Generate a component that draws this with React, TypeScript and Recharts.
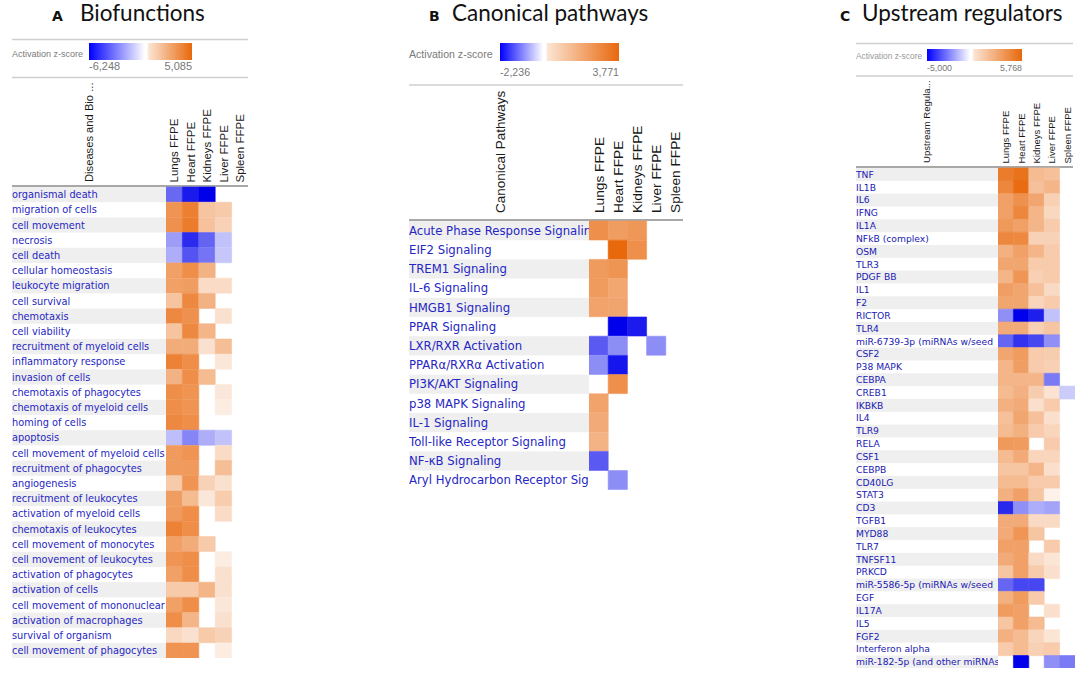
import React from 'react';
import { BarChart, Bar, XAxis, YAxis, Cell } from 'recharts';

// ---------- data ----------
const SAMPLES = ['Lungs FFPE', 'Heart FFPE', 'Kidneys FFPE', 'Liver FFPE', 'Spleen FFPE'];

const bioLabels = [
  'organismal death', 'migration of cells', 'cell movement', 'necrosis', 'cell death',
  'cellular homeostasis', 'leukocyte migration', 'cell survival', 'chemotaxis', 'cell viability',
  'recruitment of myeloid cells', 'inflammatory response', 'invasion of cells', 'chemotaxis of phagocytes',
  'chemotaxis of myeloid cells', 'homing of cells', 'apoptosis', 'cell movement of myeloid cells',
  'recruitment of phagocytes', 'angiogenesis', 'recruitment of leukocytes', 'activation of myeloid cells',
  'chemotaxis of leukocytes', 'cell movement of monocytes', 'cell movement of leukocytes',
  'activation of phagocytes', 'activation of cells', 'cell movement of mononuclear',
  'activation of macrophages', 'survival of organism', 'cell movement of phagocytes',
];
const bioLungs = [-3.7, 3.6, 3.7, -2.4, -2.0, 3.2, 3.2, 2.0, 4.0, 2.0, 2.8, 4.2, 2.6, 3.8, 3.8, 4.0, -1.6, 3.4, 3.4, 1.8, 3.3, 3.4, 4.2, 3.2, 3.6, 3.2, 1.8, 3.2, 3.8, 1.3, 3.6];
const bioHeart = [-5.6, 4.3, 4.4, -5.2, -4.2, 3.8, 3.3, 4.0, 3.7, 4.0, 2.8, 3.8, 3.8, 3.6, 3.6, 3.8, -3.0, 3.6, 3.4, 3.6, 2.3, 3.8, 3.8, 2.8, 3.8, 3.8, 1.8, 3.8, 2.5, 1.0, 3.6];
const bioKidneys = [-6.248, 2.0, 2.1, -3.8, -3.4, 2.6, 1.2, 2.6, null, 2.5, 1.0, null, 2.3, null, null, null, -2.0, null, null, 1.5, 0.8, null, null, 1.8, null, null, 2.5, null, null, 1.8, null];
const bioLiver = [null, 1.8, 1.5, -1.5, -1.4, null, 1.2, null, 1.0, null, 2.2, 0.8, null, 0.8, 0.6, null, -1.5, 1.2, 2.2, 1.0, 1.7, 1.2, null, null, 0.6, 1.0, 1.0, 0.8, 1.0, 1.5, 0.6];
const bioSpleen = bioLabels.map(() => null);
const bioRange = [-6.248, 5.085];
const bioRangeText = ['-6,248', '5,085'];

const canLabels = [
  'Acute Phase Response Signalin', 'EIF2 Signaling', 'TREM1 Signaling', 'IL-6 Signaling', 'HMGB1 Signaling',
  'PPAR Signaling', 'LXR/RXR Activation', 'PPARα/RXRα Activation', 'PI3K/AKT Signaling', 'p38 MAPK Signaling',
  'IL-1 Signaling', 'Toll-like Receptor Signaling', 'NF-κB Signaling', 'Aryl Hydrocarbon Receptor Sig',
];
const canLungs = [2.8, null, 2.5, 2.5, 2.3, null, -1.45, -1.0, null, 2.3, 2.1, 1.9, -1.45, null];
const canHeart = [2.45, 3.771, 2.65, 2.2, 2.25, -2.236, -1.0, -2.05, 2.8, null, null, null, null, -1.0];
const canKidneys = [2.6, 2.8, null, null, null, -2.0, null, null, null, null, null, null, null, null];
const canLiver = [null, null, null, null, null, null, -1.0, null, null, null, null, null, null, null];
const canSpleen = canLabels.map(() => null);
const canRange = [-2.236, 3.771];
const canRangeText = ['-2,236', '3,771'];

const upLabels = [
  'TNF', 'IL1B', 'IL6', 'IFNG', 'IL1A', 'NFkB (complex)', 'OSM', 'TLR3', 'PDGF BB', 'IL1', 'F2', 'RICTOR',
  'TLR4', 'miR-6739-3p (miRNAs w/seed', 'CSF2', 'P38 MAPK', 'CEBPA', 'CREB1', 'IKBKB', 'IL4', 'TLR9', 'RELA',
  'CSF1', 'CEBPB', 'CD40LG', 'STAT3', 'CD3', 'TGFB1', 'MYD88', 'TLR7', 'TNFSF11', 'PRKCD',
  'miR-5586-5p (miRNAs w/seed', 'EGF', 'IL17A', 'IL5', 'FGF2', 'Interferon alpha', 'miR-182-5p (and other miRNAs',
];
const upLungs = [5.0, 4.6, 3.6, 3.6, 3.9, 4.6, 3.0, 3.4, 2.8, 3.7, 3.4, -2.2, 3.2, -3.0, 3.4, 2.8, 2.8, 2.6, 3.0, 2.4, 2.6, 3.9, 2.6, 2.2, 2.6, 3.0, -4.2, 3.2, 3.2, 3.6, 3.2, 2.2, -3.0, 3.0, 3.8, 2.2, 3.0, 2.0, null];
const upHeart = [5.4, 5.6, 4.2, 4.6, 3.6, 4.5, 3.6, 3.4, 4.0, 3.4, 3.4, -5.0, 3.2, -4.0, 3.8, 3.7, 2.8, 3.0, 3.2, 3.4, 3.0, 3.8, 3.2, 2.2, 2.6, 3.6, -2.2, 3.2, 4.0, 3.6, 3.6, 3.6, -3.6, 3.8, 3.6, 3.6, 2.6, 2.6, -5.0];
const upKidneys = [2.6, 2.4, 3.4, 2.8, 2.8, 1.7, 2.8, 2.0, 1.8, 2.4, 1.6, -4.4, 1.8, -3.6, 2.0, 2.0, 2.8, 1.9, 1.2, 2.4, 2.0, null, 1.6, 2.8, 2.0, 2.2, -1.6, 1.4, 2.2, null, 1.4, 2.0, -3.6, 2.0, null, 2.6, 1.6, 1.8, null];
const upLiver = [2.4, 2.8, 1.8, 1.5, 2.0, 1.7, 2.0, 2.0, 2.0, 1.4, 2.0, -1.2, 2.2, -2.2, 1.9, 1.8, -2.6, 1.1, 2.0, 1.2, 1.6, 2.0, 1.6, 1.2, 2.0, 0.5, -1.8, 1.4, null, 2.0, 1.0, 1.2, null, null, 1.2, null, 1.0, 2.0, -2.2];
const upSpleen = [null, null, null, null, null, null, null, null, null, null, null, null, null, null, null, null, null, -1.0, null, null, null, null, null, null, null, null, null, null, null, null, null, null, null, null, null, null, null, null, -2.6];
const upRange = [-5.0, 5.768];
const upRangeText = ['-5,000', '5,768'];

// ---------- helpers ----------
const ORANGE = [232, 104, 12];
function zColor(z: number | null, min: number, max: number): string {
  if (z === null || z === undefined) return 'none';
  let r: number, g: number, b: number;
  if (z >= 0) {
    const t = Math.min(1, z / max);
    r = 255 - (255 - ORANGE[0]) * t;
    g = 255 - (255 - ORANGE[1]) * t;
    b = 255 - (255 - ORANGE[2]) * t;
  } else {
    const t = Math.min(1, z / min);
    r = 255 * (1 - t);
    g = 255 * (1 - t);
    b = 255 - 20 * t;
  }
  return `rgb(${Math.round(r)},${Math.round(g)},${Math.round(b)})`;
}

type Cfg = {
  id: string; left: number; labelW: number; plotW: number; headerH: number; plotTop: number;
  rowH: number; headFs: number; headMargin: number; labelFs: number; labelFill: string;
};

const cfgA: Cfg = { id: 'a', left: 12, labelW: 154, plotW: 82, headerH: 100, plotTop: 186.5, rowH: 15.2, headFs: 11.5, headMargin: 4.5, labelFs: 9.8, labelFill: '#2626c4' };
const cfgB: Cfg = { id: 'b', left: 409, labelW: 180, plotW: 96, headerH: 135, plotTop: 221, rowH: 19.2, headFs: 13.7, headMargin: 8, labelFs: 11.7, labelFill: '#2626c4' };
const cfgC: Cfg = { id: 'c', left: 856, labelW: 142, plotW: 77, headerH: 90, plotTop: 167.5, rowH: 12.83, headFs: 9.5, headMargin: 4.5, labelFs: 9.2, labelFill: '#2020b4' };

function Heatmap({ cfg, labels, cols, range }: { cfg: Cfg; labels: string[]; cols: (number | null)[][]; range: number[] }) {
  const data = labels.map((name, i) => ({ name, s0: 1, s1: 1, s2: 1, s3: 1, s4: 1, z: cols.map((c) => c[i]) }));
  const plotH = cfg.rowH * labels.length;
  const width = cfg.labelW + cfg.plotW;
  const height = cfg.headerH + plotH;
  const colTick = (p: any) => {
    const idx = Math.floor(p.payload.value);
    return (
      <text
        transform={`translate(${p.x + cfg.headFs * 0.36},${p.y}) rotate(-90)`}
        fontSize={cfg.headFs}
        fontFamily="Liberation Sans, Arial, sans-serif"
        fill="#1a1a1a"
        textAnchor="start"
      >
        {SAMPLES[idx]}
      </text>
    );
  };
  const rowTick = (p: any) => {
    const i = p.index ?? p.payload.index;
    const x0 = p.x - cfg.labelW;
    const clipId = `clip-${cfg.id}-${i}`;
    return (
      <g>
        <defs>
          <clipPath id={clipId}>
            <rect x={x0} y={p.y - cfg.rowH / 2} width={cfg.labelW} height={cfg.rowH} />
          </clipPath>
        </defs>
        {i % 2 === 0 && (
          <rect x={x0} y={p.y - cfg.rowH / 2} width={cfg.labelW} height={cfg.rowH} fill="#efefef" />
        )}
        <text
          x={x0}
          y={p.y}
          dy="0.36em"
          fontSize={cfg.labelFs}
          fontFamily="DejaVu Sans, Verdana, sans-serif"
          fill={cfg.labelFill}
          textAnchor="start"
          clipPath={`url(#${clipId})`}
        >
          {p.payload.value}
        </text>
      </g>
    );
  };
  return (
    <div style={{ position: 'absolute', left: cfg.left, top: cfg.plotTop - cfg.headerH }}>
      <BarChart
        width={width}
        height={height}
        data={data}
        layout="vertical"
        margin={{ top: 0, right: 0, bottom: 0, left: 0 }}
        barCategoryGap={0}
        barGap={0}
      >
        <XAxis
          type="number"
          orientation="top"
          domain={[0, 5]}
          ticks={[0.5, 1.5, 2.5, 3.5, 4.5]}
          height={cfg.headerH}
          axisLine={false}
          tickLine={false}
          tickSize={0}
          tickMargin={cfg.headMargin}
          interval={0}
          allowDataOverflow
          tick={colTick}
        />
        <YAxis
          type="category"
          dataKey="name"
          width={cfg.labelW}
          axisLine={false}
          tickLine={false}
          tickSize={0}
          tickMargin={0}
          interval={0}
          tick={rowTick}
        />
        {[0, 1, 2, 3, 4].map((k) => (
          <Bar key={k} dataKey={`s${k}`} stackId="h" isAnimationActive={false}>
            {data.map((d, i) => {
              const f = zColor(d.z[k], range[0], range[1]);
              return <Cell key={i} fill={f} stroke={f === 'none' ? 'none' : f} strokeWidth={0.6} />;
            })}
          </Bar>
        ))}
      </BarChart>
    </div>
  );
}

type Deco = {
  letter: string; title: string; letterX: number; titleX: number; baseline: number;
  topLine: number | null; lineX1: number; lineX2: number; midLine: number; headLine: number;
  zsX: number; zsY: number; zsFs: number; zsFill: string;
  barX: number; barY: number; barW: number; barH: number;
  numY: number; numFs: number; range: number[]; rangeText: string[];
  axisName: string; axisX: number; axisBottom: number; axisFs: number; gid: string;
};

function Decor({ d }: { d: Deco }) {
  const zeroPct = (-d.range[0] / (d.range[1] - d.range[0])) * 100;
  return (
    <g>
      <defs>
        <linearGradient id={d.gid} x1="0" x2="1" y1="0" y2="0">
          <stop offset="0%" stopColor="#0000ff" />
          <stop offset={`${zeroPct - 1}%`} stopColor="#ffffff" />
          <stop offset={`${zeroPct + 1}%`} stopColor="#ffffff" />
          <stop offset={`${zeroPct + 3}%`} stopColor="#fbe4d2" />
          <stop offset="100%" stopColor="rgb(232,104,12)" />
        </linearGradient>
      </defs>
      <text x={d.letterX} y={d.baseline} fontSize={14} fontWeight={700} fontFamily="DejaVu Sans, Verdana, sans-serif" fill="#111">{d.letter}</text>
      <text x={d.titleX} y={d.baseline} fontSize={22.5} fontFamily="Lato, Open Sans, sans-serif" fill="#111">{d.title}</text>
      {d.topLine !== null && <line x1={d.lineX1} x2={d.lineX2} y1={d.topLine} y2={d.topLine} stroke="#cfcfcf" strokeWidth={1.5} />}
      <text x={d.zsX} y={d.zsY} dy="0.35em" fontSize={d.zsFs} fontFamily="Liberation Sans, Arial, sans-serif" fill={d.zsFill}>Activation z-score</text>
      <rect x={d.barX} y={d.barY} width={d.barW} height={d.barH} fill={`url(#${d.gid})`} />
      <text x={d.barX} y={d.numY} dy="0.35em" fontSize={d.numFs} fontFamily="Liberation Sans, Arial, sans-serif" fill="#777">{d.rangeText[0]}</text>
      <text x={d.barX + d.barW} y={d.numY} dy="0.35em" textAnchor="end" fontSize={d.numFs} fontFamily="Liberation Sans, Arial, sans-serif" fill="#777">{d.rangeText[1]}</text>
      <line x1={d.lineX1} x2={d.lineX2} y1={d.midLine} y2={d.midLine} stroke="#cfcfcf" strokeWidth={1.5} />
      <text
        transform={`translate(${d.axisX + d.axisFs * 0.36},${d.axisBottom}) rotate(-90)`}
        fontSize={d.axisFs}
        fontFamily="Liberation Sans, Arial, sans-serif"
        fill="#1a1a1a"
      >
        {d.axisName}
      </text>
      <line x1={d.lineX1} x2={d.lineX2} y1={d.headLine} y2={d.headLine} stroke="#a8a8a8" strokeWidth={2} />
    </g>
  );
}

const decoA: Deco = {
  letter: 'A', title: 'Biofunctions', letterX: 52, titleX: 80, baseline: 21,
  topLine: 39.5, lineX1: 12, lineX2: 248, midLine: 77.5, headLine: 186,
  zsX: 12, zsY: 54, zsFs: 9, zsFill: '#7a7a7a',
  barX: 89, barY: 43, barW: 103, barH: 17, numY: 66, numFs: 11, range: bioRange, rangeText: bioRangeText,
  axisName: 'Diseases and Bio ...', axisX: 89, axisBottom: 182, axisFs: 11.2, gid: 'gA',
};
const decoB: Deco = {
  letter: 'B', title: 'Canonical pathways', letterX: 429, titleX: 452, baseline: 21,
  topLine: null, lineX1: 409, lineX2: 683, midLine: 85, headLine: 220,
  zsX: 409, zsY: 54, zsFs: 10.6, zsFill: '#7a7a7a',
  barX: 500, barY: 43, barW: 119, barH: 18, numY: 72, numFs: 10.6, range: canRange, rangeText: canRangeText,
  axisName: 'Canonical Pathways', axisX: 500, axisBottom: 213, axisFs: 13.5, gid: 'gB',
};
const decoC: Deco = {
  letter: 'C', title: 'Upstream regulators', letterX: 840, titleX: 862, baseline: 21,
  topLine: 43.5, lineX1: 856, lineX2: 1073, midLine: 76, headLine: 167,
  zsX: 856, zsY: 56, zsFs: 8.4, zsFill: '#9a9a9a',
  barX: 927, barY: 49, barW: 95, barH: 12, numY: 68, numFs: 8.8, range: upRange, rangeText: upRangeText,
  axisName: 'Upstream Regula...', axisX: 927, axisBottom: 163, axisFs: 9.6, gid: 'gC',
};

export default function App() {
  return (
    <div style={{ position: 'absolute', left: 0, top: 0, width: 1084, height: 674, background: '#fff', overflow: 'hidden' }}>
      <svg width={1084} height={674} style={{ position: 'absolute', left: 0, top: 0 }}>
        <Decor d={decoA} />
        <Decor d={decoB} />
        <Decor d={decoC} />
      </svg>
      <Heatmap cfg={cfgA} labels={bioLabels} cols={[bioLungs, bioHeart, bioKidneys, bioLiver, bioSpleen]} range={bioRange} />
      <Heatmap cfg={cfgB} labels={canLabels} cols={[canLungs, canHeart, canKidneys, canLiver, canSpleen]} range={canRange} />
      <Heatmap cfg={cfgC} labels={upLabels} cols={[upLungs, upHeart, upKidneys, upLiver, upSpleen]} range={upRange} />
    </div>
  );
}
